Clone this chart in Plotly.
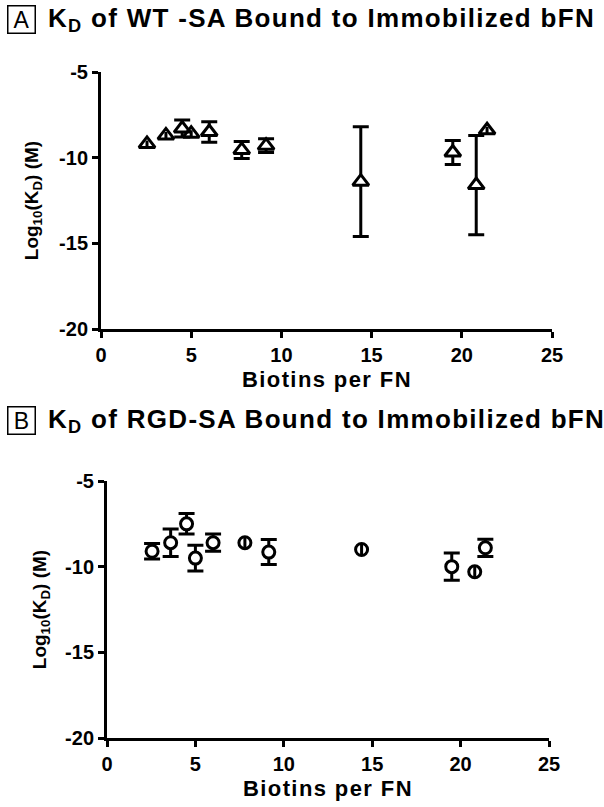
import plotly.graph_objects as go

# biotins per FN (same samples in both panels)
biotins = [2.55, 3.6, 4.5, 5.0, 6.0, 7.8, 9.15, 14.4, 19.5, 20.8, 21.4]

# panel A: WT-SA, log10(KD) and error
wt_logkd = [-9.2, -8.7, -8.3, -8.6, -8.5, -9.55, -9.3, -11.4, -9.7, -11.6, -8.4]
wt_err = [0.2, 0.2, 0.5, 0.2, 0.6, 0.5, 0.4, 3.2, 0.7, 2.9, 0.2]

# panel B: RGD-SA
rgd_logkd = [-9.1, -8.6, -7.5, -9.5, -8.6, -8.6, -9.15, -9.0, -10.0, -10.3, -8.9]
rgd_err = [0.45, 0.8, 0.6, 0.75, 0.5, 0.3, 0.73, 0.3, 0.8, 0.3, 0.5]

x_ticks = [0, 5, 10, 15, 20, 25]
y_ticks = [-5, -10, -15, -20]
y_tick_labels = ["-5", "-10", "-15", "-20"]  # plain hyphens like the original

FONT = "Liberation Sans"
W, H = 604, 807

fig = go.Figure()


def add_points(x, y, err, symbol, size, xa, ya, small):
    # small errors sit inside the marker, so draw those with an open symbol and no caps
    idx = [i for i in range(len(x)) if (err[i] < 0.35) == small]
    fig.add_trace(go.Scatter(
        x=[x[i] for i in idx], y=[y[i] for i in idx],
        mode="markers", xaxis=xa, yaxis=ya, showlegend=False,
        marker=dict(symbol=symbol, size=size,
                    color="rgba(0,0,0,0)" if small else "white",
                    line=dict(color="black", width=3)),
        error_y=dict(type="data", array=[err[i] for i in idx], color="black",
                     thickness=3, width=0 if small else 8),
    ))


for small in (False, True):
    add_points(biotins, wt_logkd, wt_err, "triangle-up", 14, "x", "y", small)
    add_points(biotins, rgd_logkd, rgd_err, "circle", 12, "x2", "y2", small)

axis_common = dict(
    showline=True, linecolor="black", linewidth=3, automargin=False,
    ticks="outside", ticklen=6, tickwidth=3, tickcolor="black",
    showgrid=False, zeroline=False,
    tickfont=dict(family=FONT, size=20, color="black", weight="bold"),
)


def ytitle(standoff):
    return dict(text="<b>Log<sub>10</sub>(K<sub>D</sub>) (M)</b>", standoff=standoff,
                font=dict(family=FONT, size=19, color="black"))


top_x = [101 / W, 552 / W]
bot_x = [107 / W, 549 / W]

fig.update_layout(
    width=W, height=H,
    margin=dict(l=0, r=0, t=0, b=0, autoexpand=False),
    paper_bgcolor="white", plot_bgcolor="white",
    xaxis=dict(axis_common, domain=top_x, range=[0, 25], tickvals=x_ticks, anchor="y"),
    yaxis=dict(axis_common, domain=[1 - 329 / H, 1 - 72 / H], range=[-20, -5],
               tickvals=y_ticks, ticktext=y_tick_labels, anchor="x", title=ytitle(16)),
    xaxis2=dict(axis_common, domain=bot_x, range=[0, 25], tickvals=x_ticks, anchor="y2"),
    yaxis2=dict(axis_common, domain=[1 - 738 / H, 1 - 481 / H], range=[-20, -5],
                tickvals=y_ticks, ticktext=y_tick_labels, anchor="x2", title=ytitle(14)),
)

# x axis titles
for dom, ymid in [(top_x, 379), (bot_x, 788)]:
    fig.add_annotation(x=(dom[0] + dom[1]) / 2, y=1 - ymid / H, xref="paper", yref="paper",
                       text='<span style="letter-spacing:1.4px"><b>Biotins per FN</b></span>',
                       showarrow=False, xanchor="center", yanchor="middle",
                       font=dict(family=FONT, size=22, color="black"))

# panel letters in boxes and panel titles
for letter, title, ymid in [("A", "K<sub>D</sub> of WT -SA Bound to Immobilized bFN", 19),
                            ("B", "K<sub>D</sub> of RGD-SA Bound to Immobilized bFN", 420)]:
    fig.add_annotation(x=21.5 / W, y=1 - ymid / H, xref="paper", yref="paper",
                       text=letter, showarrow=False, xanchor="center", yanchor="middle",
                       font=dict(family=FONT, size=23, color="black"),
                       bordercolor="black", borderwidth=1.5, borderpad=1, width=24, height=24)
    fig.add_annotation(x=46 / W, y=1 - ymid / H, xref="paper", yref="paper",
                       text='<span style="letter-spacing:1.3px"><b>' + title + "</b></span>",
                       showarrow=False, xanchor="left", yanchor="middle",
                       font=dict(family=FONT, size=26, color="black"))

# drop the default 8px page margin so the figure fills the window
fig.write_html("out.html", config={"displayModeBar": False},
               post_script="document.body.style.margin = '0';")
